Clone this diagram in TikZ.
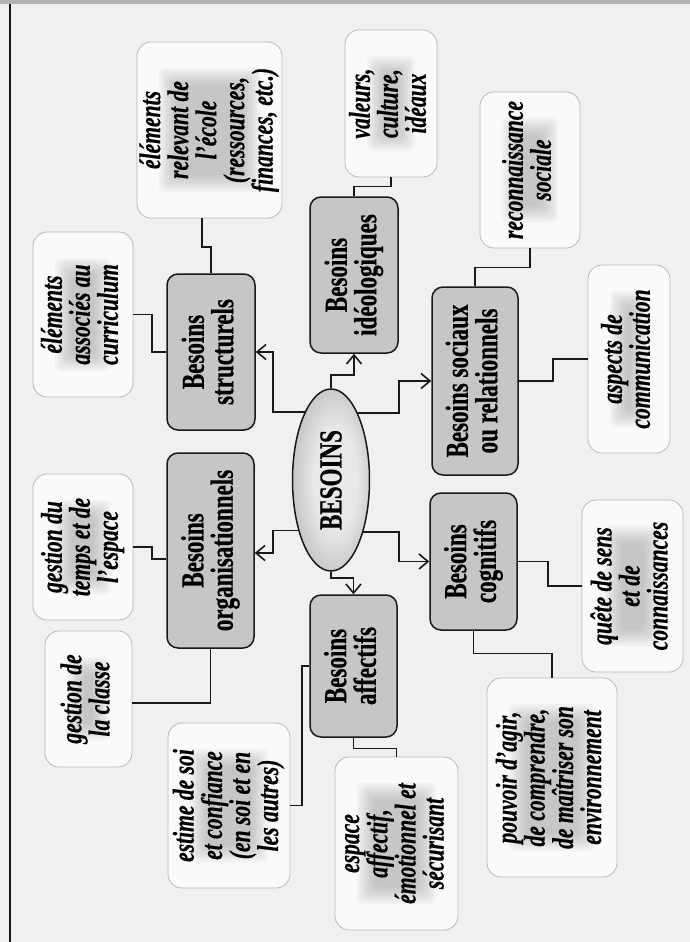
\documentclass[tikz,border=0pt]{standalone}
\usepackage{fontspec}
\setmainfont{Liberation Serif}
\newfontfamily\hubfont[FakeStretch=0.72,FakeBold=0.6]{Liberation Serif}
\newfontfamily\leaffont[FakeStretch=0.72,FakeBold=0.5]{Liberation Serif}
\usetikzlibrary{arrows.meta,shapes.geometric,calc}
\definecolor{paper}{RGB}{240,240,240}
\definecolor{hubc}{RGB}{198,198,198}
\definecolor{leafc}{RGB}{250,250,250}
\definecolor{blobc}{RGB}{150,150,150}
\definecolor{ellin}{RGB}{232,232,232}
\definecolor{ellmid}{RGB}{190,190,190}
\definecolor{ellout}{RGB}{120,120,120}
\definecolor{ink}{RGB}{25,25,25}
\pgfdeclareradialshading{ellsh}{\pgfpoint{4bp}{0bp}}{color(0bp)=(ellin);color(14bp)=(ellin);color(30bp)=(ellmid);color(50bp)=(ellout)}
\newcommand{\rtxt}[1]{\rotatebox{90}{\begin{tabular}{@{}c@{}}#1\end{tabular}}}
\tikzset{
  hub/.style={draw=ink, line width=1.5pt, rounded corners=11pt, fill=hubc, inner sep=0pt,
    font=\hubfont\bfseries\fontsize{32}{24}\selectfont},
  leaf/.style={draw=gray!55, line width=0.8pt, rounded corners=14pt, fill=leafc, inner sep=0pt,
    path picture={\foreach \k in {0,...,7}{\fill[blobc, opacity=0.08, rounded corners=6pt]
      ($(path picture bounding box.south west)+(22pt+2.4pt*\k,26pt+2.4pt*\k)$) rectangle
      ($(path picture bounding box.north east)-(22pt+2.4pt*\k,26pt+2.4pt*\k)$);}},
    font=\leaffont\bfseries\itshape\fontsize{30}{24}\selectfont},
  arr/.style={draw=ink, line width=1.8pt, -{Straight Barb[length=9pt,width=15pt,line width=1.6pt]}},
  lnk/.style={draw=ink, line width=1.4pt}
}
\begin{document}
\begin{tikzpicture}[x=1pt,y=-1pt]
\useasboundingbox (0,0) rectangle (690,942);
\fill[paper] (0,0) rectangle (690,942);
\fill[gray!60] (0,0) rectangle (690,4);
\draw[ink, line width=2pt] (10,4) -- (10,942);

% hubs
\node[hub, minimum width=88, minimum height=156] (hS) at (211,352) {\rtxt{Besoins\\structurels}};
\node[hub, minimum width=87, minimum height=195] (hO) at (210.5,550.5) {\rtxt{Besoins\\organisationnels}};
\node[hub, minimum width=88, minimum height=156] (hI) at (354,275) {\rtxt{Besoins\\idéologiques}};
\node[hub, minimum width=86, minimum height=188] (hR) at (475,381) {\rtxt{Besoins sociaux\\ou relationnels}};
\node[hub, minimum width=87, minimum height=137] (hC) at (473.5,561.5) {\rtxt{Besoins\\cognitifs}};
\node[hub, minimum width=87, minimum height=142] (hA) at (353.5,666) {\rtxt{Besoins\\affectifs}};

% centre
\node[ellipse, draw=ink, line width=1.5pt, shade, shading=ellsh, minimum width=77, minimum height=182, inner sep=0pt,
  font=\hubfont\bfseries\fontsize{32}{24}\selectfont] (c) at (331,480) {\rotatebox{90}{BESOINS}};

% leaves
\node[leaf, minimum width=145, minimum height=176] (lA) at (209.5,130) {\rtxt{éléments\\relevant de\\l’école\\(ressources,\\finances, etc.)}};
\node[leaf, minimum width=100, minimum height=165] (lB) at (83,314.5) {\rtxt{éléments\\associés au\\curriculum}};
\node[leaf, minimum width=100, minimum height=146] (lC) at (83,547) {\rtxt{gestion du\\temps et de\\l’espace}};
\node[leaf, minimum width=87, minimum height=136] (lD) at (88.5,699) {\rtxt{gestion de\\la classe}};
\node[leaf, minimum width=122, minimum height=165] (lE) at (229,805.5) {\rtxt{estime de soi\\et confiance\\(en soi et en\\les autres)}};
\node[leaf, minimum width=123, minimum height=173] (lF) at (396.5,843.5) {\rtxt{espace\\affectif,\\émotionnel et\\sécurisant}};
\node[leaf, minimum width=130, minimum height=199] (lG) at (552,777.5) {\rtxt{pouvoir d’agir,\\de comprendre,\\de maîtriser son\\environnement}};
\node[leaf, minimum width=101, minimum height=172] (lH) at (632.5,586) {\rtxt{quête de sens\\et de\\connaissances}};
\node[leaf, minimum width=82, minimum height=188] (lI) at (629,359) {\rtxt{aspects de\\communication}};
\node[leaf, minimum width=100, minimum height=156] (lJ) at (530,170) {\rtxt{reconnaissance\\sociale}};
\node[leaf, minimum width=92, minimum height=147] (lK) at (391,103.5) {\rtxt{valeurs,\\culture,\\idéaux}};

% arrows from centre
\draw[arr] (c.111.3) -| (273,352) -- (hS.east);
\draw[arr] (c.237.2) -| (273,553) -- (hO.east |- 273,553);
\draw[arr] (c.north) -- (331,375) -| (hI.south);
\draw[arr] (c.68.7) -| (399,381) -- (hR.west);
\draw[arr] (c.302.8) -| (399,561.5) -- (hC.west);
\draw[arr] (c.south) -- (331,578) -| (hA.north);

% links to leaves
\draw[lnk] (hS.north) |- (202,247) -- (202,247 |- lA.south);
\draw[lnk] (hS.west) -| (152,314.5) -- (lB.east);
\draw[lnk] (hO.west |- 152,559) -| (152,547) -- (lC.east);
\draw[lnk] (hO.south) |- (lD.east |- 210,703);
\draw[lnk] (hA.west) -| (302,805.5) -- (lE.east);
\draw[lnk] (hA.south) -- ++(0,11) -| (lF.north);
\draw[lnk] (hC.east) -| (548,586) -- (lH.west);
\draw[lnk] (hC.south) -- ++(0,23) -| (lG.north);
\draw[lnk] (hR.east) -| (553,359) -- (lI.west);
\draw[lnk] (hR.north) -- ++(0,-19) -| (lJ.south);
\draw[lnk] (hI.north) -- ++(0,-10) -| (lK.south);
\end{tikzpicture}
\end{document}
